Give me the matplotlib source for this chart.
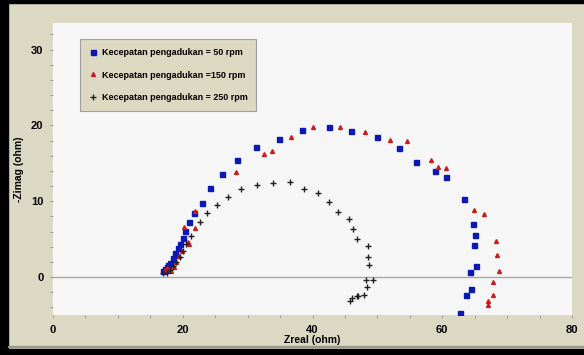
import matplotlib.pyplot as plt
from matplotlib.patches import Rectangle

plt.rcParams['font.family'] = ['Liberation Sans Narrow', 'Liberation Sans', 'DejaVu Sans']
plt.rcParams['font.weight'] = 'bold'

# 50 rpm (blue squares)
zreal_50 = [17.0, 17.2, 17.5, 17.8, 18.1, 18.5, 18.8, 19.2, 19.6, 20.1, 20.4, 21.0, 21.8, 22.9,
            24.2, 26.1, 28.4, 31.3, 34.8, 38.4, 42.5, 46.0, 49.9, 53.3, 56.0, 58.9, 60.6,
            63.4, 64.8, 65.1, 64.9, 65.2, 64.3, 64.5, 63.7, 62.8]
zimag_50 = [0.8, 1.0, 1.3, 1.6, 1.9, 2.5, 3.2, 3.8, 4.4, 5.2, 6.1, 7.3, 8.5, 9.8,
            11.8, 13.6, 15.5, 17.1, 18.2, 19.4, 19.8, 19.3, 18.5, 17.0, 15.2, 14.0, 13.2,
            10.3, 7.0, 5.5, 4.2, 1.4, 0.7, -1.6, -2.3, -4.8]

# 150 rpm (red triangles)
zreal_150 = [17.2, 17.5, 17.8, 18.2, 18.6, 19.0, 19.4, 19.9, 20.8, 21.0, 20.2, 21.9, 21.9,
             28.2, 32.5, 33.8, 36.7, 40.1, 44.3, 48.1, 51.9, 54.6, 58.3, 59.4, 60.6,
             64.9, 66.4, 68.3, 68.4, 68.8, 67.8, 67.8, 67.1, 67.1]
zimag_150 = [0.9, 1.2, 1.0, 0.8, 1.3, 2.0, 2.8, 3.5, 4.6, 4.4, 6.6, 6.5, 8.7,
             13.8, 16.2, 16.6, 18.5, 19.8, 19.8, 19.1, 18.1, 18.0, 15.4, 14.5, 14.4,
             8.9, 8.3, 4.7, 2.9, 0.8, -0.7, -2.3, -3.1, -3.7]

# 250 rpm (black crosses)
zreal_250 = [17.0, 17.5, 18.0, 18.5, 19.0, 19.5, 20.0, 20.5, 21.2, 22.7, 23.8, 25.3, 27.0,
             29.0, 31.4, 33.9, 36.5, 38.7, 40.9, 42.6, 43.9, 45.6, 46.3, 46.9, 48.5, 48.5,
             48.7, 48.2, 49.4, 48.4, 47.9, 47.0, 46.8, 46.1, 45.8]
zimag_250 = [0.5, 0.6, 0.9, 1.4, 2.0, 2.7, 3.5, 4.3, 5.4, 7.3, 8.4, 9.5, 10.6,
             11.6, 12.2, 12.4, 12.5, 11.6, 11.1, 9.9, 8.6, 7.6, 6.3, 5.0, 4.1, 2.6,
             1.6, -0.4, -0.4, -1.3, -2.3, -2.5, -2.5, -2.7, -3.1]

labels = ['Kecepatan pengadukan = 50 rpm', 'Kecepatan pengadukan =150 rpm',
          'Kecepatan pengadukan = 250 rpm']

beige = '#dbd8c3'
fig = plt.figure(figsize=(5.84, 3.55), dpi=100, facecolor=beige)
ax = fig.add_axes([53 / 584, 1 - 315 / 355, 519 / 584, 292 / 355])
ax.set_facecolor('#f6f6f6')

# screenshot frame
fig.patches.append(Rectangle((0, 0), 8 / 584, 1, transform=fig.transFigure, color='black'))
fig.patches.append(Rectangle((0, 1 - 3 / 355), 1, 3 / 355, transform=fig.transFigure, color='black'))
fig.patches.append(Rectangle((0, 0), 1, 6 / 355, transform=fig.transFigure, color='black'))
fig.patches.append(Rectangle((8 / 584, 8 / 355), 1, 1.5 / 355, transform=fig.transFigure, color='#9a9888'))

ax.axhline(0, color='#a8a8a8', lw=1, zorder=1)

ax.plot(zreal_50, zimag_50, 's', color='#0c18b4', ms=3.6, mec='#0c18b4', label=labels[0], zorder=3)
ax.plot(zreal_150, zimag_150, '^', color='#cc1a1a', ms=2.8, mec='#cc1a1a', label=labels[1], zorder=3)
ax.plot(zreal_250, zimag_250, '+', color='#202020', ms=4, mew=1, label=labels[2], zorder=3)

ax.set_xlim(0, 80)
ax.set_ylim(-5, 33.5)
ax.set_xticks([0, 20, 40, 60, 80])
ax.set_yticks([0, 10, 20, 30])
ax.set_xticks(range(0, 81, 5), minor=True)
ax.set_yticks(range(-4, 34, 2), minor=True)
ax.tick_params(which='both', length=2, width=0.6, color='#909090', labelsize=8, pad=5)
for lab in ax.get_xticklabels() + ax.get_yticklabels():
    lab.set_fontweight('bold')

for s in ax.spines.values():
    s.set_visible(False)

ax.set_xlabel('Zreal (ohm)', fontsize=7.5, fontweight='bold', labelpad=0)
ax.set_ylabel('-Zimag (ohm)', fontsize=7.5, fontweight='bold', labelpad=5)

leg = ax.legend(loc='upper left', bbox_to_anchor=(0.052, 0.945), borderaxespad=0,
                fancybox=False, framealpha=1, facecolor='#dcd8c2', edgecolor='#a0a0a0',
                prop={'size': 6.5, 'weight': 'bold'}, labelspacing=1.5, handlelength=0.8,
                handletextpad=0.6, borderpad=1.0)
leg.get_frame().set_linewidth(0.8)

fig.savefig('out.png', dpi=100, facecolor=beige)
